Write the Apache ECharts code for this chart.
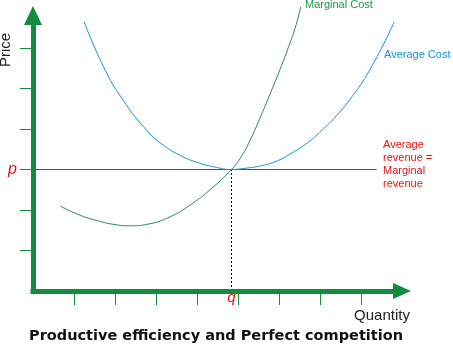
<!DOCTYPE html>
<html>
<head>
<meta charset="utf-8">
<script src="https://cdn.jsdelivr.net/npm/echarts@6/dist/echarts.min.js"></script>
<style>
  html, body { margin: 0; padding: 0; background: #ffffff; }
  #chart { width: 453px; height: 346px; }
</style>
</head>
<body>
<div id="chart"></div>
<script>
// Axis ticks (unlabelled) and the two marked values
const quantityTicks = [1, 2, 3, 4, 5, 6, 7, 8];
const priceTicks = [1, 2, 3, 4, 5, 6];
const priceP = 3;
const quantityQ = 4.84;

// Marginal cost curve
const mcQuantity = [0.66, 1.15, 1.63, 2.00, 2.35, 2.85, 3.34, 3.83, 4.32, 4.84, 5.05, 5.29, 5.54, 5.78, 6.02, 6.27, 6.42, 6.53];
const mcPrice    = [2.10, 1.87, 1.72, 1.64, 1.61, 1.66, 1.83, 2.12, 2.50, 3.00, 3.27, 3.71, 4.28, 4.86, 5.46, 6.13, 6.58, 7.02];

// Average cost curve
const acQuantity = [1.25, 1.72, 2.20, 2.79, 3.18, 3.59, 3.99, 4.40, 4.84, 5.17, 5.50, 5.90, 6.30, 6.76, 7.08, 7.40, 7.73, 8.22, 8.81];
const acPrice    = [6.64, 5.54, 4.71, 3.95, 3.60, 3.35, 3.18, 3.07, 3.00, 3.03, 3.08, 3.19, 3.40, 3.71, 4.00, 4.33, 4.73, 5.47, 6.64];

// Average revenue = marginal revenue (horizontal at p)
const revenueQuantity = [0, 8.38];

const axisGreen = '#128c3e';
const revenueRed = '#f01010';
const zipPts = (xs, ys) => xs.map((x, i) => [x, ys[i]]);

const chart = echarts.init(document.getElementById('chart'), null, { renderer: 'canvas' });

chart.setOption({
  animation: false,
  backgroundColor: '#ffffff',
  grid: { left: 33, right: 51, top: 15.6, bottom: 55, containLabel: false, outerBoundsMode: 'none' },
  xAxis: {
    type: 'value', min: 0, max: 9, interval: 1, z: 5,
    splitLine: { show: false },
    axisLine: {
      show: true, onZero: false,
      symbol: ['none', 'triangle'], symbolSize: [16, 18],
      lineStyle: { color: axisGreen, width: 5, cap: 'square' }
    },
    axisTick: {
      show: true, inside: false, length: 14, customValues: quantityTicks,
      lineStyle: { color: axisGreen, width: 1 }
    },
    axisLabel: {
      show: true, customValues: [quantityQ], margin: -1,
      formatter: () => 'q',
      color: revenueRed, fontStyle: 'italic', fontSize: 15, fontFamily: 'Liberation Sans'
    }
  },
  yAxis: {
    type: 'value', min: 0, max: 6.8, interval: 1, z: 5,
    splitLine: { show: false },
    axisLine: {
      show: true, onZero: false,
      symbol: ['none', 'triangle'], symbolSize: [18, 19],
      lineStyle: { color: axisGreen, width: 5, cap: 'square' }
    },
    axisTick: {
      show: true, inside: false, length: 13, customValues: priceTicks,
      lineStyle: { color: axisGreen, width: 1 }
    },
    axisLabel: {
      show: true, customValues: [priceP], margin: 16,
      formatter: () => 'p', padding: [0, 0, 5, 0],
      color: revenueRed, fontStyle: 'italic', fontSize: 16, fontFamily: 'Liberation Sans'
    }
  },
  series: [
    {
      name: 'revenue', type: 'line', silent: true, z: 2,
      color: revenueRed,
      showSymbol: false,
      data: revenueQuantity.map(x => [x, priceP]),
      itemStyle: { color: revenueRed },
      lineStyle: { color: revenueRed, width: 1, type: 'solid' }
    },
    {
      name: 'q', type: 'line', silent: true, z: 2,
      color: '#000000',
      showSymbol: false,
      data: [[quantityQ, 0], [quantityQ, priceP]],
      lineStyle: { color: '#000000', width: 1, type: [2, 2] }
    },
    {
      name: 'Average Cost', type: 'line', silent: true, z: 3, clip: false,
      color: '#1592e6',
      showSymbol: false, smooth: 0.5,
      data: zipPts(acQuantity, acPrice),
      lineStyle: { color: '#1592e6', width: 1 }
    },
    {
      name: 'Marginal Cost', type: 'line', silent: true, z: 3, clip: false,
      color: '#2c8a5e',
      showSymbol: false, smooth: 0.5,
      data: zipPts(mcQuantity, mcPrice),
      lineStyle: { color: '#2c8a5e', width: 1 }
    }
  ],
  graphic: [
    {
      type: 'text', x: 6, y: 50, rotation: Math.PI / 2,
      style: { text: 'Price', fontSize: 15, fontFamily: 'Liberation Sans', fill: '#222222', align: 'center', verticalAlign: 'middle' }
    },
    {
      type: 'text', x: 382, y: 315.5,
      style: { text: 'Quantity', fontSize: 15, fontFamily: 'Liberation Sans', fill: '#222222', align: 'center', verticalAlign: 'middle' }
    },
    {
      type: 'text', x: 305, y: 4.5,
      style: { text: 'Marginal Cost', fontSize: 11, fontFamily: 'Liberation Sans', fill: '#1a9a48', align: 'left', verticalAlign: 'middle' }
    },
    {
      type: 'text', x: 384, y: 54.5,
      style: { text: 'Average Cost', fontSize: 11, fontFamily: 'Liberation Sans', fill: '#1592e6', align: 'left', verticalAlign: 'middle' }
    },
    {
      type: 'text', x: 383, y: 164.5,
      style: { text: 'Average\nrevenue =\nMarginal\nrevenue', fontSize: 11, lineHeight: 12.8, fontFamily: 'Liberation Sans', fill: revenueRed, align: 'left', verticalAlign: 'middle' }
    },
    {
      type: 'text', x: 216, y: 336,
      style: { text: 'Productive efficiency and Perfect competition', fontSize: 14.5, fontWeight: 'bold', fontFamily: 'DejaVu Sans', fill: '#111111', align: 'center', verticalAlign: 'middle' }
    }
  ]
});
</script>
</body>
</html>
